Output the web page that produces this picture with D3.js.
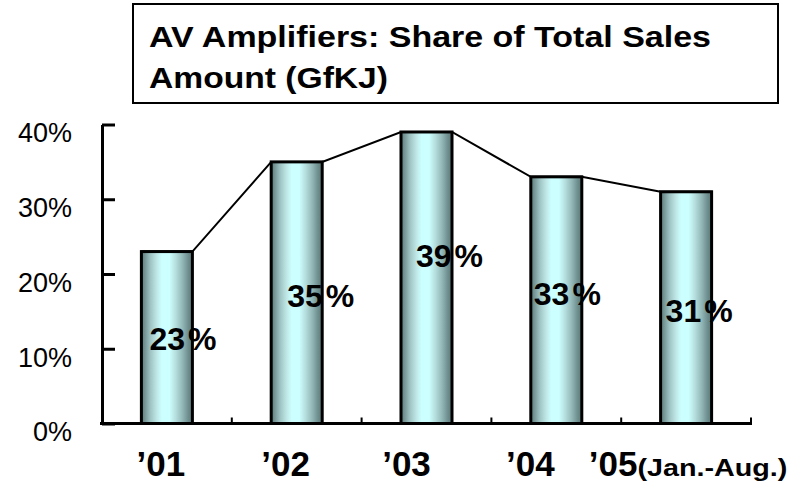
<!DOCTYPE html>
<html>
<head>
<meta charset="utf-8">
<script src="https://cdn.jsdelivr.net/npm/d3@7"></script>
<style>
  body { margin: 0; background: #fff; }
  svg { display: block; font-family: "Liberation Sans", Arial, sans-serif; }
</style>
</head>
<body>
<svg id="chart" width="808" height="485"></svg>
<script>
// data
const categories = ["'01", "'02", "'03", "'04", "'05"];
const catLabels = ["\u201901", "\u201902", "\u201903", "\u201904", "\u201905"];
const shares = [0.23, 0.35, 0.39, 0.33, 0.31];
const yTicks = [0, 0.1, 0.2, 0.3, 0.4];
const titleLines = ["AV Amplifiers: Share of Total Sales", "Amount (GfKJ)"];
const lastSuffix = "(Jan.-Aug.)";
// where the value labels sit (in share units) and their nudges, as in the picture
const labelAt = [0.098, 0.156, 0.21, 0.159, 0.136];
const labelDx = [8, 16, 15, 3, 5];
const catDx = [-6, -11, -20, -26, 2];

const svg = d3.select("#chart");

const x = d3.scaleBand()
  .domain(categories)
  .range([102, 751])
  .paddingInner(0.607)
  .paddingOuter(0.3035);

const xb = d3.scaleBand().domain(categories).range([102, 751]).padding(0);

const y = d3.scaleLinear().domain([0, 0.4]).range([423.5, 124.5]);

// bar gradient, dark edges and a light cyan middle
const defs = svg.append("defs");
const grad = defs.append("linearGradient")
  .attr("id", "barGrad")
  .attr("x1", "0%").attr("x2", "100%").attr("y1", "0%").attr("y2", "0%");
[
  [0, "#5a7a7a"], [0.08, "#7a9a9a"], [0.18, "#a0c4c4"], [0.3, "#bfe6e6"],
  [0.4, "#ccffff"], [0.55, "#ccffff"], [0.68, "#b4dcdc"], [0.8, "#94b8b8"],
  [0.92, "#6e8e8e"], [1, "#5a7a7a"]
].forEach(([o, c]) => grad.append("stop").attr("offset", o).attr("stop-color", c));

// title box
svg.append("rect")
  .attr("x", 133).attr("y", 4).attr("width", 645).attr("height", 99)
  .attr("fill", "#fff").attr("stroke", "#000").attr("stroke-width", 2);

svg.append("g")
  .selectAll("text")
  .data(titleLines)
  .enter()
  .append("text")
  .attr("x", 149)
  .attr("y", (d, i) => 47 + i * 41)
  .attr("font-size", 29)
  .attr("font-weight", "bold")
  .attr("textLength", (d, i) => (i === 0 ? 562 : 239))
  .attr("lengthAdjust", "spacingAndGlyphs")
  .text((d) => d);

// bars
svg.append("g")
  .selectAll("rect")
  .data(shares)
  .enter()
  .append("rect")
  .attr("x", (d, i) => x(categories[i]))
  .attr("y", (d) => y(d))
  .attr("width", x.bandwidth())
  .attr("height", (d) => y(0) - y(d))
  .attr("fill", "url(#barGrad)")
  .attr("stroke", "#000")
  .attr("stroke-width", 3);

// line over the bar tops
const pts = [];
shares.forEach((d, i) => {
  pts.push([x(categories[i]), y(d)]);
  pts.push([x(categories[i]) + x.bandwidth(), y(d)]);
});
svg.append("path")
  .attr("d", d3.line()(pts))
  .attr("fill", "none")
  .attr("stroke", "#000")
  .attr("stroke-width", 2);

// y axis
const yAxis = svg.append("g")
  .attr("transform", "translate(102,0)")
  .call(
    d3.axisLeft(y)
      .tickValues(yTicks)
      .tickFormat(d3.format(".0%"))
      .tickSize(-13)
      .tickSizeOuter(0)
      .tickPadding(30)
  );
yAxis.select(".domain").attr("stroke-width", 3);
yAxis.selectAll(".tick line").attr("stroke-width", 3);
yAxis.selectAll(".tick text")
  .attr("font-size", 27)
  .attr("font-family", "Liberation Sans, Arial, sans-serif")
  .attr("fill", "#000")
  .attr("dy", "0.64em");

// x axis baseline and boundary ticks
const xAxis = svg.append("g").attr("transform", `translate(0,${y(0)})`);
xAxis.append("line")
  .attr("x1", 100).attr("x2", 752)
  .attr("stroke", "#000").attr("stroke-width", 3);
xAxis.selectAll("line.tk")
  .data(categories)
  .enter()
  .append("line")
  .attr("class", "tk")
  .attr("x1", (d) => xb(d) + xb.bandwidth())
  .attr("x2", (d) => xb(d) + xb.bandwidth())
  .attr("y1", 0).attr("y2", -6)
  .attr("stroke", "#000").attr("stroke-width", 2);

// category labels
const catText = svg.append("g")
  .selectAll("text")
  .data(categories)
  .enter()
  .append("text")
  .attr("x", (d, i) => x(d) + x.bandwidth() / 2 + catDx[i])
  .attr("y", 476)
  .attr("text-anchor", "middle")
  .attr("font-weight", "bold")
  .attr("font-size", 35);
catText.append("tspan").text((d, i) => catLabels[i]);
catText.filter((d, i) => i === categories.length - 1)
  .append("tspan")
  .attr("font-size", 23)
  .attr("textLength", 150)
  .attr("lengthAdjust", "spacingAndGlyphs")
  .text(lastSuffix);

// value labels
const vl = svg.append("g")
  .selectAll("text")
  .data(shares)
  .enter()
  .append("text")
  .attr("x", (d, i) => x(categories[i]) + labelDx[i])
  .attr("y", (d, i) => y(labelAt[i]))
  .attr("font-weight", "bold")
  .attr("font-size", 32);
vl.append("tspan").text((d) => Math.round(d * 100));
vl.append("tspan").attr("dx", 3).text("%");
</script>
</body>
</html>
